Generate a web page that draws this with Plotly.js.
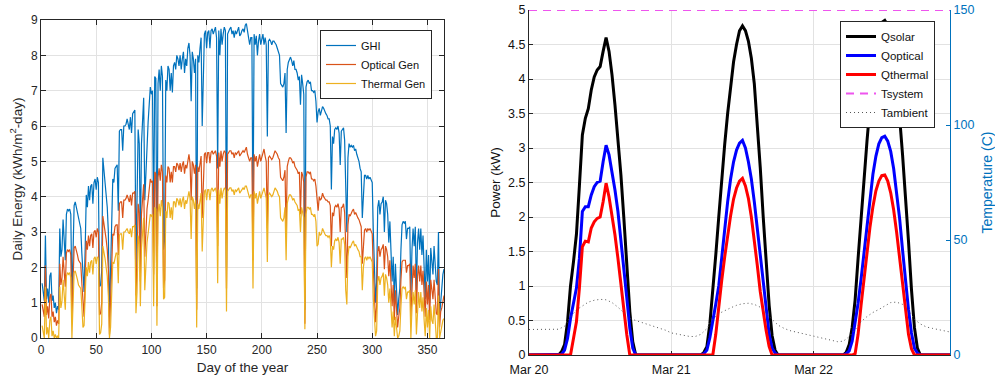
<!DOCTYPE html>
<html>
<head>
<meta charset="utf-8">
<script src="https://cdn.plot.ly/plotly-3.0.1.min.js"></script>
<style>
  html, body { margin: 0; padding: 0; background: #ffffff; }
  #chart { width: 995px; height: 376px; }
</style>
</head>
<body>
<div id="chart"></div>
<script>
// ---------------- Left panel: daily energy over the year ----------------
const seriesNames = ['GHI', 'Optical Gen', 'Thermal Gen'];
const ghi = [
  1.55,1.3,1.05,2.9,1.1,1.4,1.0,1.75,1.85,1.05,
  1.2,0.85,1.0,0.7,0.9,0.8,3.1,2.3,2.5,3.35,
  2.8,2.2,3.5,3.65,3.6,3.65,3.5,1.1,2.4,3.75,
  3.85,3.7,3.5,3.3,3.2,3.1,2.4,1.6,1.3,2.5,
  4.05,3.7,4.3,3.9,4.3,4.35,3.8,4.4,4.5,4.2,
  4.55,4.4,1.45,1.5,1.9,5.1,4.8,4.5,4.15,3.7,
  3.0,0.6,1.9,3.4,4.5,4.4,4.8,4.85,4.9,3.6,
  5.85,5.9,5.9,5.3,6.0,6.0,6.05,6.2,6.0,5.9,
  6.25,5.8,6.35,6.4,6.45,2.0,3.5,5.9,5.5,2.6,
  5.5,6.2,6.8,3.9,4.8,5.7,6.1,6.6,7.1,6.9,
  7.0,3.0,7.4,7.35,1.6,7.2,7.6,7.0,7.7,7.4,
  2.5,2.8,7.3,7.0,7.7,7.6,7.0,7.5,6.95,7.7,
  7.8,7.6,8.0,7.9,7.7,8.0,7.6,7.9,8.1,7.5,
  7.9,7.7,8.2,8.35,8.0,6.7,8.1,7.9,7.5,7.9,
  1.4,8.0,7.8,8.2,8.5,6.0,7.8,8.6,8.7,8.2,
  8.65,8.7,8.2,8.7,8.75,8.6,8.7,8.8,8.5,4.8,
  8.7,8.0,8.75,8.3,8.6,8.8,8.7,2.0,8.6,8.7,
  8.75,8.8,8.6,8.7,8.5,8.7,8.6,8.7,8.8,8.55,
  8.6,8.7,8.75,8.65,8.85,8.9,8.6,8.5,8.3,8.5,
  8.5,3.0,8.6,8.3,8.55,8.0,8.4,8.6,8.3,8.5,
  8.6,8.3,8.5,8.3,5.7,8.4,8.45,8.4,8.3,8.4,
  8.4,8.35,8.3,8.2,8.1,8.0,7.2,7.15,7.1,7.2,
  7.5,5.8,7.6,7.8,7.9,7.95,7.85,7.7,7.85,7.6,
  7.6,7.5,7.3,7.4,6.6,7.45,7.2,6.9,0.8,7.1,
  7.25,7.3,7.2,7.25,7.0,7.0,6.95,7.0,6.7,6.1,
  6.4,6.5,6.3,6.4,6.55,6.5,6.4,6.35,6.3,6.2,
  6.2,6.0,4.2,5.7,5.5,5.9,5.95,5.9,6.0,5.8,
  4.9,5.85,5.9,5.95,5.6,3.9,3.0,5.1,5.5,5.4,
  5.45,5.4,5.45,5.3,5.35,5.2,5.1,5.0,4.8,4.7,
  3.4,4.25,4.6,4.6,4.5,4.6,4.5,4.55,4.45,4.4,
  3.0,2.1,1.0,1.6,3.7,3.9,3.5,3.8,3.85,4.0,
  3.0,3.9,3.8,3.5,2.7,3.3,2.5,1.6,2.3,1.0,
  2.1,1.3,0.65,1.1,1.4,2.5,3.2,3.3,3.25,3.3,
  2.8,3.1,3.1,3.15,1.2,2.5,3.1,2.6,3.15,1.3,
  2.7,3.1,2.5,3.1,2.35,2.9,2.0,1.1,2.5,1.6,
  2.35,1.0,2.55,2.0,1.8,2.6,2.0,1.6,1.5,3.0,
  0.6,1.2,1.4,1.8,1.95
];
const opticalGen = [
  0.95,0.75,0.6,2.05,0.65,0.9,0.55,1.15,1.25,0.6,
  0.75,0.45,0.6,0.35,0.5,0.4,2.1,1.5,1.7,2.3,
  1.9,1.45,2.4,2.5,2.45,2.5,2.35,0.5,1.6,2.55,
  2.6,2.5,2.35,2.2,2.15,2.1,1.55,0.9,0.6,1.65,
  2.75,2.5,2.9,2.6,2.9,2.95,2.55,3.0,3.05,2.85,
  3.1,3.0,0.65,0.7,1.0,3.45,3.25,3.05,2.8,2.5,
  1.95,0.1,0.9,2.2,2.95,2.9,3.15,3.2,3.2,2.35,
  3.8,3.85,3.85,3.4,3.9,3.9,3.95,4.05,3.9,3.85,
  4.05,3.75,4.1,4.1,4.15,1.2,2.1,3.8,3.55,1.6,
  3.5,3.95,4.35,2.3,3.0,3.65,3.9,4.2,4.5,4.4,
  4.45,1.8,4.7,4.65,0.9,4.55,4.8,4.45,4.9,4.7,
  1.4,1.65,4.6,4.4,4.85,4.8,4.4,4.7,4.4,4.85,
  4.85,4.7,4.95,4.9,4.75,4.95,4.7,4.9,5.0,4.65,
  4.9,4.8,5.05,5.2,4.95,3.9,5.0,4.9,4.65,4.9,
  0.8,4.85,4.7,4.95,5.15,3.4,4.7,5.2,5.25,4.95,
  5.25,5.25,4.95,5.25,5.3,5.2,5.25,5.3,5.15,2.6,
  5.25,4.85,5.3,5.0,5.2,5.3,5.25,1.4,5.2,5.25,
  5.3,5.3,5.2,5.25,5.1,5.25,5.2,5.25,5.3,5.15,
  5.2,5.25,5.3,5.25,5.35,5.4,5.2,5.1,5.0,5.1,
  5.1,2.2,5.2,5.0,5.15,4.85,5.05,5.2,5.0,5.1,
  5.25,5.35,5.15,5.0,3.1,5.1,5.15,5.1,5.05,5.1,
  5.25,5.3,5.25,5.2,5.1,5.05,4.55,4.5,4.45,4.55,
  4.75,3.0,4.85,5.0,5.1,5.1,5.05,4.95,5.0,4.85,
  4.8,4.75,4.65,4.7,3.5,4.7,4.6,4.4,0.4,4.55,
  4.7,4.7,4.65,4.7,4.5,4.5,4.45,4.5,4.3,3.95,
  3.6,4.0,3.9,3.95,4.1,4.0,3.95,3.9,3.9,3.85,
  3.85,3.75,2.6,3.55,3.45,3.7,3.75,3.7,3.8,3.65,
  3.0,3.7,3.7,3.8,3.55,2.3,1.7,3.2,3.5,3.45,
  3.55,3.6,3.65,3.5,3.55,3.45,3.4,3.35,3.2,3.15,
  2.1,2.8,3.05,3.1,3.0,3.1,3.05,3.1,3.0,2.95,
  1.9,1.2,0.45,0.9,2.45,2.6,2.3,2.5,2.55,2.65,
  1.95,2.6,2.5,2.3,1.75,2.2,1.6,0.9,1.5,0.5,
  1.35,0.75,0.3,0.6,0.85,1.65,2.15,2.2,2.2,2.2,
  1.85,2.05,2.05,2.1,0.6,1.6,2.05,1.7,2.1,0.7,
  1.75,2.05,1.6,2.05,1.5,1.9,1.25,0.6,1.6,0.95,
  1.5,0.5,1.65,1.25,1.1,1.65,1.25,0.7,0.65,1.95,
  0.3,0.75,0.85,1.1,1.2
];
const thermalGen = [
  0.35,0.15,0.0,1.45,0.1,0.3,0.0,0.5,0.6,0.05,
  0.2,0.0,0.1,0.0,0.05,0.0,1.45,0.85,1.05,1.65,
  1.25,0.8,1.75,1.85,1.8,1.85,1.7,0.0,0.95,1.85,
  1.9,1.8,1.65,1.5,1.45,1.4,0.9,0.3,0.35,1.0,
  2.0,1.75,2.15,1.85,2.15,2.2,1.8,2.25,2.3,2.1,
  2.3,2.25,0.1,0.15,0.4,2.6,2.45,2.25,2.0,1.75,
  1.2,0.0,0.3,1.45,2.15,2.1,2.3,2.4,2.4,1.55,
  2.9,2.95,2.95,2.5,3.0,3.0,3.05,3.1,3.0,2.95,
  3.1,2.85,3.15,3.15,3.2,0.7,1.3,2.9,2.65,0.9,
  2.55,3.0,3.4,1.35,2.05,2.7,2.95,3.25,3.5,3.45,
  3.5,0.9,3.7,3.65,0.35,3.55,3.8,3.45,3.9,3.7,
  1.1,1.15,3.6,3.4,3.85,3.8,3.4,3.7,3.35,3.85,
  3.85,3.7,3.95,3.9,3.75,3.95,3.7,3.9,4.0,3.65,
  3.9,3.8,4.0,4.15,3.95,2.8,4.0,3.9,3.65,3.9,
  0.3,3.8,3.65,3.9,4.1,2.45,3.65,4.15,4.2,3.9,
  4.2,4.2,3.9,4.2,4.25,4.15,4.2,4.25,4.1,1.55,
  4.2,3.8,4.25,3.95,4.15,4.25,4.2,0.75,4.15,4.2,
  4.25,4.25,4.15,4.2,4.05,4.2,4.15,4.2,4.25,4.1,
  4.15,4.2,4.25,4.2,4.3,4.3,4.15,4.05,3.95,4.05,
  4.05,1.4,4.15,3.95,4.1,3.8,4.0,4.15,3.95,4.05,
  4.2,4.25,4.1,3.95,2.15,4.05,4.1,4.05,4.0,4.05,
  4.2,4.25,4.2,4.15,4.05,4.0,3.4,3.35,3.3,3.4,
  3.7,2.2,3.8,3.95,4.05,4.05,4.0,3.9,3.95,3.85,
  3.8,3.75,3.6,3.65,3.0,3.7,3.55,3.4,0.25,3.5,
  3.7,3.7,3.65,3.7,3.5,3.5,3.45,3.5,3.3,2.6,
  2.65,3.0,2.9,2.95,3.1,3.0,2.95,2.9,2.9,2.85,
  2.9,2.8,2.0,2.6,2.5,2.75,2.8,2.75,2.85,2.7,
  2.1,2.8,2.8,2.85,2.65,1.35,0.95,2.3,2.6,2.55,
  2.65,2.7,2.75,2.6,2.65,2.55,2.5,2.45,2.3,2.3,
  1.35,2.0,2.25,2.3,2.2,2.3,2.25,2.3,2.2,2.15,
  1.1,0.45,0.05,0.2,1.6,1.75,1.5,1.7,1.75,1.85,
  1.2,1.8,1.7,1.5,1.0,1.4,0.85,0.3,0.75,0.05,
  0.6,0.15,0.0,0.05,0.2,0.9,1.4,1.45,1.4,1.45,
  1.1,1.3,1.3,1.35,0.0,0.85,1.3,0.95,1.35,0.1,
  1.0,1.3,0.85,1.3,0.75,1.15,0.5,0.05,0.85,0.3,
  0.8,0.0,0.9,0.5,0.4,0.95,0.5,0.0,0.0,1.2,
  0.0,0.2,0.3,0.5,0.55
];
const dayOfYear = ghi.map((_, i) => i + 1);

// ---------------- Right panel: three days of power / temperature ----------------
const powerNames = ['Qsolar', 'Qoptical', 'Qthermal'];
const tempNames = ['Tsystem', 'Tambient'];
const dayLabels = ['2020-03-20', '2020-03-21', '2020-03-22'];
// half-hourly values (00:00 .. 23:30) for each day, kW
const qsolarDays = [
  [0,0,0,0,0,0,0,0,0,0, 0,0.05,0.15,0.48,1.0,1.35,1.75,2.45,3.19,3.43,3.57,3.84,4.03,4.13,4.18,4.40,4.60,4.40,4.06,3.62,3.14,2.61,1.98,1.30,0.63,0.19,0, 0,0,0,0,0,0,0,0,0,0,0],
  [0,0,0,0,0,0,0,0,0,0, 0,0.04,0.12,0.45,0.92,1.45,2.0,2.55,3.05,3.5,3.92,4.25,4.5,4.7,4.77,4.7,4.55,4.3,3.93,3.35,2.72,2.0,1.32,0.72,0.28,0.07,0, 0,0,0,0,0,0,0,0,0,0,0],
  [0,0,0,0,0,0,0,0,0,0, 0,0.04,0.15,0.4,0.8,1.4,2.0,2.6,3.1,3.6,4.1,4.45,4.68,4.82,4.85,4.78,4.6,4.3,3.9,3.45,2.9,2.3,1.65,0.95,0.4,0.1,0, 0,0,0,0,0,0,0,0,0,0,0]
];
const qopticalDays = [
  [0,0,0,0,0,0,0,0,0,0, 0,0.01,0.07,0.24,0.53,0.77,0.97,1.40,2.08,2.15,2.15,2.32,2.44,2.50,2.52,2.80,3.04,2.90,2.66,2.39,2.08,1.69,1.26,0.82,0.39,0.10,0, 0,0,0,0,0,0,0,0,0,0,0],
  [0,0,0,0,0,0,0,0,0,0, 0,0.02,0.07,0.25,0.48,0.74,1.0,1.42,1.85,2.22,2.55,2.8,2.97,3.07,3.11,3.0,2.8,2.55,2.22,1.83,1.4,1.0,0.63,0.3,0.1,0.03,0, 0,0,0,0,0,0,0,0,0,0,0],
  [0,0,0,0,0,0,0,0,0,0, 0,0.02,0.06,0.2,0.45,0.75,1.1,1.5,1.9,2.3,2.62,2.88,3.06,3.15,3.17,3.1,2.95,2.7,2.38,1.98,1.52,1.07,0.66,0.32,0.1,0.03,0, 0,0,0,0,0,0,0,0,0,0,0]
];
const qthermalDays = [
  [0,0,0,0,0,0,0,0,0,0, 0,0,0,0,0,0.24,0.48,0.97,1.57,1.65,1.64,1.84,1.93,1.98,2.00,2.22,2.49,2.29,2.03,1.74,1.40,1.01,0.63,0.29,0,0,0, 0,0,0,0,0,0,0,0,0,0,0],
  [0,0,0,0,0,0,0,0,0,0, 0,0,0,0,0,0.3,0.72,1.08,1.42,1.74,2.02,2.26,2.42,2.52,2.56,2.45,2.27,2.0,1.69,1.3,0.92,0.6,0.35,0.12,0,0,0, 0,0,0,0,0,0,0,0,0,0,0],
  [0,0,0,0,0,0,0,0,0,0, 0,0,0,0,0.02,0.3,0.72,1.12,1.5,1.85,2.15,2.38,2.52,2.6,2.61,2.52,2.35,2.1,1.78,1.4,1.0,0.62,0.3,0.09,0,0,0, 0,0,0,0,0,0,0,0,0,0,0]
];
// hourly temperatures (°C), Mar 20 00:00 .. Mar 22 23:00
const tSystem = [
  150,150,150,150,150,150,150,150,150,150,150,150,150,150,150,150,150,150,150,150,150,150,150,150,
  150,150,150,150,150,150,150,150,150,150,150,150,150,150,150,150,150,150,150,150,150,150,150,150,
  150,150,150,150,150,150,150,150,150,150,150,150,150,150,150,150,150,150,150,150,150,150,150,150
];
const tAmbient = [
  11.1,11.1,11.1,11.1,11.1,11.2,12.5,16.5,19.6,21.5,23.0,23.8,24.2,24.0,22.8,20.8,18.5,15.9,15.0,14.2,13.3,12.4,11.5,10.8,
  9.6,9.0,8.5,8.1,8.0,9.0,11.5,15.5,18.0,19.4,20.5,21.6,22.3,22.5,22.0,20.8,18.0,15.5,13.0,11.6,10.6,10.0,9.3,8.6,
  8.0,7.3,6.7,6.1,5.8,6.0,8.0,11.0,14.5,16.7,18.5,19.8,21.2,22.8,23.0,22.0,19.5,15.5,13.5,12.2,11.6,11.0,10.4,10.0
];

function pad(n) { return (n < 10 ? '0' : '') + n; }
function halfHourStamps() {
  const out = [];
  dayLabels.forEach(d => { for (let i = 0; i < 48; i++) out.push(d + ' ' + pad(Math.floor(i / 2)) + ':' + (i % 2 ? '30' : '00')); });
  return out;
}
function hourStamps() {
  const out = [];
  dayLabels.forEach(d => { for (let h = 0; h < 24; h++) out.push(d + ' ' + pad(h) + ':00'); });
  return out;
}
const tHalf = halfHourStamps();
const tHour = hourStamps();
const flat = arr => [].concat(...arr);

const FONT = 'Liberation Sans, Arial, Helvetica, sans-serif';
const AX = '#262626';
const GRID = '#e2e2e2';
const TBLUE = '#0072BD';

const traces = [
  {x: dayOfYear, y: ghi, name: seriesNames[0], type: 'scatter', mode: 'lines', line: {color: '#0072BD', width: 1.2}, xaxis: 'x', yaxis: 'y', legend: 'legend'},
  {x: dayOfYear, y: opticalGen, name: seriesNames[1], type: 'scatter', mode: 'lines', line: {color: '#D95319', width: 1.2}, xaxis: 'x', yaxis: 'y', legend: 'legend'},
  {x: dayOfYear, y: thermalGen, name: seriesNames[2], type: 'scatter', mode: 'lines', line: {color: '#EDB120', width: 1.2}, xaxis: 'x', yaxis: 'y', legend: 'legend'},
  {x: tHalf, y: flat(qsolarDays), name: powerNames[0], type: 'scatter', mode: 'lines', line: {color: '#000000', width: 3}, xaxis: 'x2', yaxis: 'y2', legend: 'legend2'},
  {x: tHalf, y: flat(qopticalDays), name: powerNames[1], type: 'scatter', mode: 'lines', line: {color: '#0000FF', width: 3}, xaxis: 'x2', yaxis: 'y2', legend: 'legend2'},
  {x: tHalf, y: flat(qthermalDays), name: powerNames[2], type: 'scatter', mode: 'lines', line: {color: '#FF0000', width: 3}, xaxis: 'x2', yaxis: 'y2', legend: 'legend2'},
  {x: tHour, y: tSystem, name: tempNames[0], type: 'scatter', mode: 'lines', line: {color: '#EE55EE', width: 2, dash: '8px,6px'}, xaxis: 'x2', yaxis: 'y3', legend: 'legend2'},
  {x: tHour, y: tAmbient, name: tempNames[1], type: 'scatter', mode: 'lines', line: {color: '#555555', width: 1, dash: '1px,3px'}, xaxis: 'x2', yaxis: 'y3', legend: 'legend2'}
];

const baseAxis = {
  showline: true, linecolor: AX, linewidth: 1, ticks: 'inside', tickcolor: AX,
  showgrid: true, gridcolor: GRID, gridwidth: 1, zeroline: false,
  tickfont: {family: FONT, size: 12, color: AX}
};

const layout = {
  width: 995, height: 376,
  margin: {l: 0, r: 0, t: 0, b: 0},
  paper_bgcolor: '#ffffff', plot_bgcolor: '#ffffff',
  font: {family: FONT, size: 12, color: AX},
  showlegend: true,
  xaxis: Object.assign({}, baseAxis, {
    domain: [41/995, 444/995], anchor: 'y', range: [0, 365], tick0: 0, dtick: 50,
    ticklen: 5, mirror: 'ticks', ticklabelstandoff: 1,
    title: {text: 'Day of the year', font: {family: FONT, size: 13.5, color: AX}, standoff: 6}
  }),
  yaxis: Object.assign({}, baseAxis, {
    domain: [(376-338)/376, (376-20)/376], anchor: 'x', range: [0, 9], tick0: 0, dtick: 1,
    ticklen: 5, mirror: 'ticks',
    title: {text: 'Daily Energy (kWh/m<sup>2</sup>-day)', font: {family: FONT, size: 13.5, color: AX}, standoff: 5}
  }),
  xaxis2: Object.assign({}, baseAxis, {
    domain: [529/995, 950/995], anchor: 'y2', type: 'date',
    range: ['2020-03-20 00:00', '2020-03-22 23:00'], tick0: '2020-03-20', dtick: 86400000,
    tickformat: '%b %d', ticklen: 4, layer: 'below traces', ticklabelstandoff: 3,
    tickfont: {family: FONT, size: 12.5, color: '#111111'}
  }),
  yaxis2: Object.assign({}, baseAxis, {
    domain: [(376-355)/376, (376-10)/376], anchor: 'x2', range: [0, 5], tick0: 0, dtick: 0.5,
    ticklen: 4, layer: 'below traces',
    tickfont: {family: FONT, size: 12.5, color: '#111111'},
    title: {text: 'Power (kW)', font: {family: FONT, size: 13.5, color: '#111111'}, standoff: 4}
  }),
  yaxis3: {
    overlaying: 'y2', side: 'right', anchor: 'x2', range: [0, 150], tick0: 0, dtick: 50,
    showline: true, linecolor: TBLUE, linewidth: 1, ticks: 'inside', ticklen: 4, tickcolor: TBLUE,
    showgrid: false, zeroline: false,
    tickfont: {family: FONT, size: 12.5, color: TBLUE},
    title: {text: 'Temperature (C)', font: {family: FONT, size: 14, color: TBLUE}, standoff: 10}
  },
  legend: {
    x: 320/995, y: 1 - 30/376, xanchor: 'left', yanchor: 'top',
    bgcolor: '#ffffff', bordercolor: AX, borderwidth: 1,
    font: {family: FONT, size: 11, color: '#111111'}, tracegroupgap: 0
  },
  legend2: {
    x: 840/995, y: 1 - 21/376, xanchor: 'left', yanchor: 'top',
    bgcolor: '#ffffff', bordercolor: AX, borderwidth: 1,
    font: {family: FONT, size: 11.5, color: '#111111'}, tracegroupgap: 0
  }
};

Plotly.newPlot('chart', traces, layout, {staticPlot: true, displayModeBar: false});
</script>
</body>
</html>
